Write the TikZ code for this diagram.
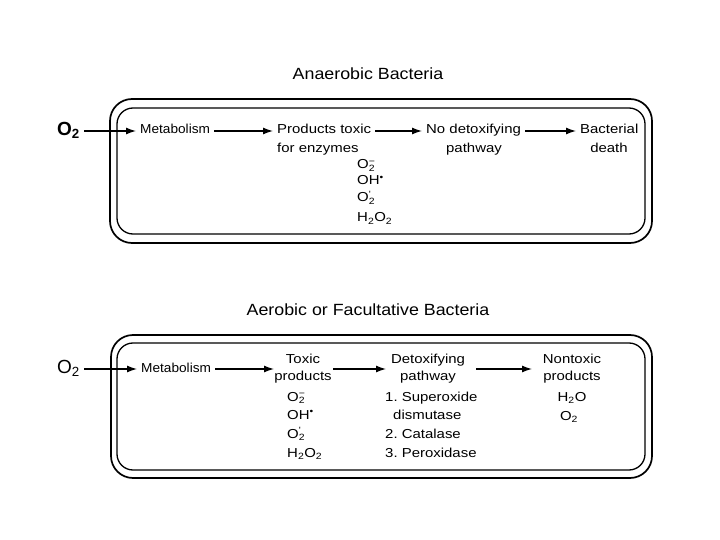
\documentclass[tikz,border=0pt]{standalone}
\usepackage{fontspec}
\setmainfont{Liberation Sans}
\newfontfamily\lblfont[FakeStretch=1.15]{Liberation Sans}
\newfontfamily\metfont[FakeStretch=1.05]{Liberation Sans}
\newfontfamily\ttlfont[FakeStretch=1.1]{Liberation Sans}
\usetikzlibrary{arrows.meta}
\newcommand{\stk}[2]{\makebox[0pt][l]{\textsuperscript{#2}}\textsubscript{#1}}
\frenchspacing
\begin{document}
\begin{tikzpicture}[x=1pt,y=-1pt,
  lbl/.style={inner sep=0pt, text height=9pt, text depth=3pt, font=\lblfont\fontsize{13}{15}\selectfont},
  met/.style={lbl, font=\metfont\fontsize{13}{15}\selectfont},
  ttl/.style={inner sep=0pt, font=\ttlfont\fontsize{16.2}{18}\selectfont},
  oxy/.style={inner sep=0pt, text height=12pt, text depth=3pt, font=\fontsize{19}{20}\selectfont},
  arr/.style={-{Latex[length=10pt,width=7pt]}, line width=1.3pt, shorten <=4pt, shorten >=4pt},
  outerbox/.style={draw, line width=1.7pt, rounded corners=22pt},
  innerbox/.style={draw, line width=1.3pt, rounded corners=16pt}]
\useasboundingbox (0,0) rectangle (720,540);

% ---------- Anaerobic ----------
\node[ttl] (t1) at (368,74) {Anaerobic Bacteria};
\draw[outerbox] (110,99) rectangle (652,243);
\draw[innerbox] (117,108) rectangle (645,234);

\node[oxy, anchor=west, font=\fontsize{19}{20}\selectfont\bfseries] (o2a) at (57,131) {O\textsubscript{2}};
\node[met, anchor=west] (meta) at (140,131) {Metabolism};
\node[lbl, anchor=west] (proda) at (277,131) {Products toxic};
\node[lbl, anchor=west] (proda2) at (277,150) {for enzymes};
\node[lbl, anchor=west] (nodet) at (426,131) {No detoxifying};
\node[lbl] (nodet2) at (474,150) {pathway};
\node[lbl, anchor=west] (bact) at (580,131) {Bacterial};
\node[lbl] (bact2) at (609,150) {death};

\node[lbl, anchor=west] (ca1) at (357,166) {O\stk{2}{−}};
\node[lbl, anchor=west] (ca2) at (357,182) {OH\textsuperscript{•}};
\node[lbl, anchor=west] (ca3) at (357,199) {O\stk{2}{'}};
\node[lbl, anchor=west] (ca4) at (357,219) {H\textsubscript{2}O\textsubscript{2}};

\draw[arr] (o2a) -- (meta);
\draw[arr] (meta) -- (proda);
\draw[arr] (proda) -- (nodet);
\draw[arr] (nodet) -- (bact);

% ---------- Aerobic ----------
\node[ttl] (t2) at (368,310) {Aerobic or Facultative Bacteria};
\draw[outerbox] (111,335) rectangle (652,478);
\draw[innerbox] (117,343) rectangle (645,470);

\node[oxy, anchor=west] (o2b) at (57,369) {O\textsubscript{2}};
\node[met, anchor=west] (metb) at (141,369) {Metabolism};
\node[lbl] (tox) at (303,360) {Toxic};
\node[lbl] (tox2) at (303,377) {products};
\node[lbl] (det) at (428,360) {Detoxifying};
\node[lbl] (det2) at (428,377) {pathway};
\node[lbl] (non) at (572,360) {Nontoxic};
\node[lbl] (non2) at (572,377) {products};

\node[lbl, anchor=west] (cb1) at (287,398) {O\stk{2}{−}};
\node[lbl, anchor=west] (cb2) at (287,416) {OH\textsuperscript{•}};
\node[lbl, anchor=west] (cb3) at (287,435) {O\stk{2}{'}};
\node[lbl, anchor=west] (cb4) at (287,454) {H\textsubscript{2}O\textsubscript{2}};

\node[lbl, anchor=west] (e1) at (385,398) {1. Superoxide};
\node[lbl, anchor=west] (e1b) at (393,416) {dismutase};
\node[lbl, anchor=west] (e2) at (385,435) {2. Catalase};
\node[lbl, anchor=west] (e3) at (385,454) {3. Peroxidase};

\node[lbl] (w1) at (572,398) {H\textsubscript{2}O};
\node[lbl] (w2) at (569,417) {O\textsubscript{2}};

\coordinate (a0) at (274,369);
\coordinate (a1) at (333,369);
\coordinate (a2) at (386,369);
\coordinate (a3) at (476,369);
\coordinate (a4) at (532,369);
\draw[arr] (o2b) -- (metb);
\draw[arr, shorten >=0pt] (metb.east) -- (a0);
\draw[arr, shorten <=0pt, shorten >=0pt] (a1) -- (a2);
\draw[arr, shorten <=0pt, shorten >=0pt] (a3) -- (a4);
\end{tikzpicture}
\end{document}
